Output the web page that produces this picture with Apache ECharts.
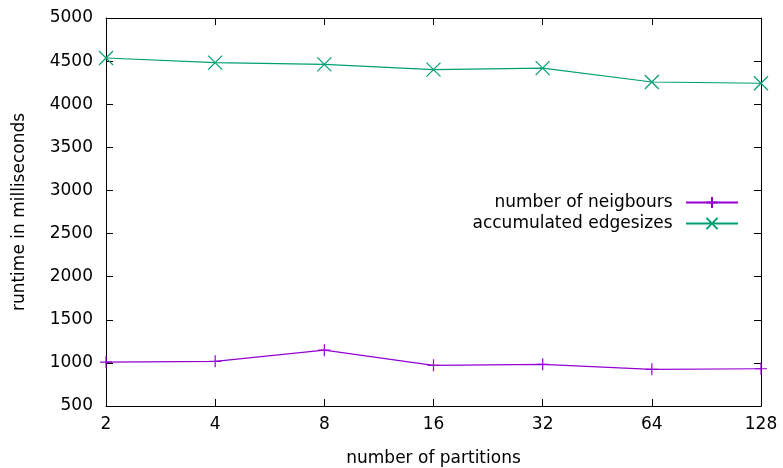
<!DOCTYPE html>
<html>
<head>
<meta charset="utf-8">
<script src="https://cdn.jsdelivr.net/npm/echarts@6/dist/echarts.min.js"></script>
<style>
  html, body { margin: 0; padding: 0; background: #ffffff; }
  #chart { width: 783px; height: 468px; }
</style>
</head>
<body>
<div id="chart"></div>
<script>
// Partition counts along the x axis
const partitions = ['2', '4', '8', '16', '32', '64', '128'];

// Runtime (ms) per partitioning strategy
const neighbours = [1010, 1018, 1148, 972, 983, 925, 932];
const edgesizes = [4536, 4483, 4463, 4402, 4418, 4258, 4243];

// Y axis range and tick step
const yMin = 500;
const yMax = 5000;
const yStep = 500;

const FONT = '"DejaVu Sans", sans-serif';
const FS = 17;
const PURPLE = '#9400d3';
const GREEN = '#009e73';

const plusPath = 'path://M0,5L10,5M5,0L5,10';
const crossPath = 'path://M0,0L10,10M10,0L0,10';

const chart = echarts.init(document.getElementById('chart'), null, { renderer: 'canvas' });

const axisLine = { show: true, lineStyle: { color: '#000', width: 1 } };
const tick = { show: true, inside: true, length: 7, lineStyle: { color: '#000', width: 1 } };

chart.setOption({
  animation: false,
  backgroundColor: '#ffffff',
  textStyle: { fontFamily: FONT },
  grid: { left: 106, right: 22, top: 18, bottom: 62, containLabel: false, outerBoundsMode: 'none' },
  legend: {
    right: 39,
    top: 189,
    orient: 'vertical',
    align: 'right',
    itemWidth: 52,
    itemHeight: 14,
    itemGap: 4,
    formatter: (name) => name + '\u2002',
    textStyle: { fontFamily: FONT, fontSize: FS, color: '#000' },
    data: ['number of neigbours', 'accumulated edgesizes']
  },
  xAxis: [
    {
      type: 'category',
      data: partitions,
      boundaryGap: false,
      name: 'number of partitions',
      nameLocation: 'middle',
      nameGap: 44,
      nameTextStyle: { fontFamily: FONT, fontSize: FS, color: '#000' },
      axisLine: axisLine,
      axisTick: tick,
      axisLabel: { fontFamily: FONT, fontSize: FS, color: '#000', margin: 10 },
      splitLine: { show: false }
    },
    {
      type: 'category',
      data: partitions,
      boundaryGap: false,
      position: 'top',
      axisLine: axisLine,
      axisTick: tick,
      axisLabel: { show: false },
      splitLine: { show: false }
    }
  ],
  yAxis: [
    {
      type: 'value',
      min: yMin,
      max: yMax,
      interval: yStep,
      name: 'runtime in milliseconds',
      nameLocation: 'middle',
      nameGap: 78,
      nameTextStyle: { fontFamily: FONT, fontSize: FS, color: '#000' },
      axisLine: axisLine,
      axisTick: tick,
      axisLabel: { fontFamily: FONT, fontSize: FS, color: '#000', margin: 13, formatter: (v) => String(v) },
      splitLine: { show: false }
    },
    {
      type: 'value',
      min: yMin,
      max: yMax,
      interval: yStep,
      position: 'right',
      axisLine: axisLine,
      axisTick: tick,
      axisLabel: { show: false },
      splitLine: { show: false }
    }
  ],
  series: [
    {
      name: 'number of neigbours',
      type: 'line',
      data: neighbours,
      symbol: plusPath,
      symbolSize: 12,
      showAllSymbol: true,
      clip: false,
      lineStyle: { color: PURPLE, width: 1.2 },
      itemStyle: { color: 'rgba(0,0,0,0)', borderColor: PURPLE, borderWidth: 1.2 },
      emphasis: { disabled: true }
    },
    {
      name: 'accumulated edgesizes',
      type: 'line',
      data: edgesizes,
      symbol: crossPath,
      symbolSize: 14,
      showAllSymbol: true,
      clip: false,
      lineStyle: { color: GREEN, width: 1.2 },
      itemStyle: { color: 'rgba(0,0,0,0)', borderColor: GREEN, borderWidth: 1.2 },
      emphasis: { disabled: true }
    }
  ]
});
</script>
</body>
</html>
